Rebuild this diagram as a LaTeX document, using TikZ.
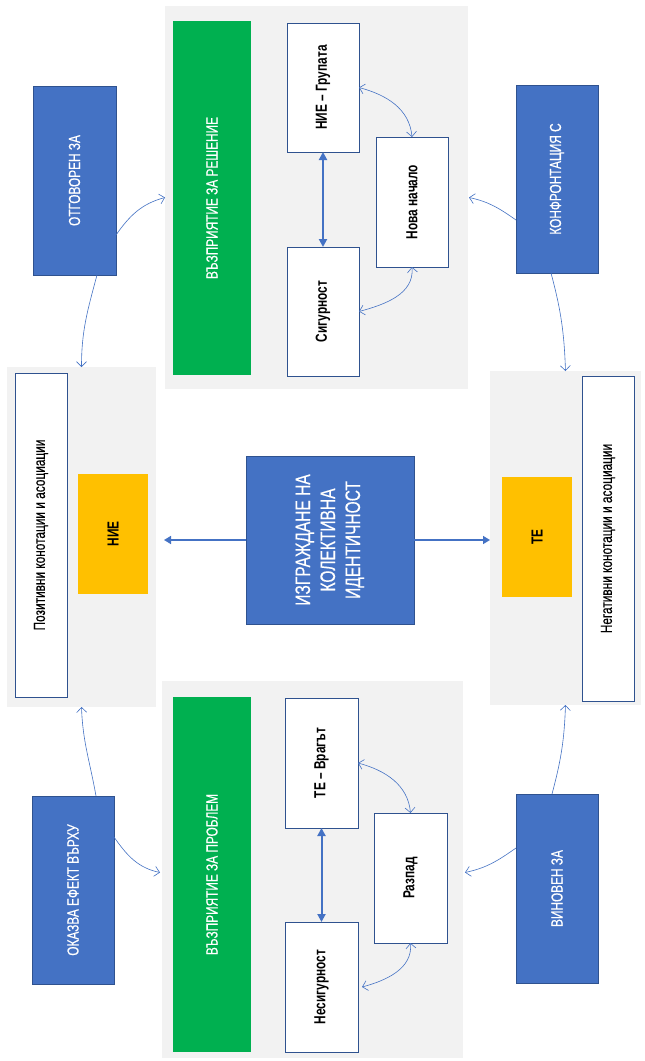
\documentclass[tikz,border=0pt]{standalone}
\usepackage{fontspec}
\setmainfont{Liberation Sans}[FakeStretch=0.74, UprightFeatures={FakeBold=0.4}]
\usetikzlibrary{arrows.meta}
\definecolor{blu}{HTML}{4472C4}
\definecolor{blued}{HTML}{2F528F}
\definecolor{grn}{HTML}{00B050}
\definecolor{yel}{HTML}{FFC000}
\definecolor{pan}{HTML}{F2F2F2}
\tikzset{
  sz/.style 2 args={minimum width=#1pt, minimum height=#2pt},
  base/.style={rectangle, inner sep=0pt, outer sep=0pt, font=\fontsize{16}{19}\selectfont},
  panel/.style={base, fill=pan, draw=none},
  greenbar/.style={base, fill=grn, text=white},
  wbox/.style={base, fill=white, draw=blued, line width=1pt, font=\fontsize{16}{19}\selectfont\bfseries},
  wlong/.style={base, fill=white, draw=blued, line width=1pt},
  ybox/.style={base, fill=yel, font=\fontsize{16}{19}\selectfont\bfseries},
  bbox/.style={base, fill=blu, draw=blued, line width=0.8pt, text=white},
  thin/.style={draw=blu, line width=0.6pt},
  openhead/.style={arrows={-Straight Barb[length=5pt,width=10pt,line width=0.6pt]}},
  bothopen/.style={arrows={Straight Barb[length=5pt,width=10pt,line width=0.6pt]-Straight Barb[length=5pt,width=10pt,line width=0.6pt]}},
  thick2/.style={draw=blu, line width=2pt, arrows={Triangle[length=8pt,width=8pt]-Triangle[length=8pt,width=8pt]}},
  centerarrow/.style={draw=blu, line width=1.5pt, arrows={-Triangle[length=7pt,width=8pt]}},
}
\newcommand{\rt}[1]{\rotatebox{90}{#1}}
\begin{document}
\begin{tikzpicture}[x=1pt,y=1pt]
\useasboundingbox (0,0) rectangle (645,-1061);
\fill[white] (0,0) rectangle (645,-1061);

% panels
\node[panel, sz={303}{383}] (ptop) at (316.5,-197.5) {};
\node[panel, sz={149}{340}] (pleft) at (81.5,-537) {};
\node[panel, sz={151}{334}] (pright) at (565.5,-538) {};
\node[panel, sz={301}{377}] (pbot) at (312.5,-869.5) {};

% green bars
\node[greenbar, sz={78}{354}] (gtop) at (212,-198) {\rt{ВЪЗПРИЯТИЕ ЗА РЕШЕНИЕ}};
\node[greenbar, sz={78}{355}] (gbot) at (212,-874.5) {\rt{ВЪЗПРИЯТИЕ ЗА ПРОБЛЕМ}};

% white boxes top
\node[wbox, sz={72}{129}] (w1) at (323,-87.5) {\rt{НИЕ – Групата}};
\node[wbox, sz={72}{129}] (w2) at (323,-311.5) {\rt{Сигурност}};
\node[wbox, sz={72}{130}] (w3) at (412,-202) {\rt{Нова начало}};
% white boxes bottom
\node[wbox, sz={73}{130}] (w4) at (321.5,-763) {\rt{ТЕ – Врагът}};
\node[wbox, sz={73}{130}] (w5) at (321.5,-987) {\rt{Несигурност}};
\node[wbox, sz={73}{130}] (w6) at (410.5,-878) {\rt{Разпад}};

% long white boxes
\node[wlong, sz={52}{324}] (wl) at (41,-535) {\rt{Позитивни конотации и асоциации}};
\node[wlong, sz={52}{325}] (wr) at (608,-538.5) {\rt{Негативни конотации и асоциации}};

% yellow
\node[ybox, sz={70}{120}] (yl) at (113,-534) {\rt{НИЕ}};
\node[ybox, sz={70}{120}] (yr) at (537,-537) {\rt{ТЕ}};

% blue boxes
\node[bbox, sz={83}{189}] (b1) at (74.5,-180.5) {\rt{ОТГОВОРЕН ЗА}};
\node[bbox, sz={82}{188}] (b2) at (557,-179) {\rt{КОНФРОНТАЦИЯ С}};
\node[bbox, sz={82}{188}] (b3) at (73,-890) {\rt{ОКАЗВА ЕФЕКТ ВЪРХУ}};
\node[bbox, sz={82}{189}] (b4) at (557,-888.5) {\rt{ВИНОВЕН ЗА}};
\node[bbox, sz={168}{168}] (bc) at (330,-540) {\rt{\fontsize{21}{25}\selectfont\begin{tabular}{@{}c@{}}ИЗГРАЖДАНЕ НА\\КОЛЕКТИВНА\\ИДЕНТИЧНОСТ\end{tabular}}};

% center arrows
\draw[centerarrow] (bc.west) -- ([xshift=8pt]bc.west -| pleft.east);
\draw[centerarrow] (bc.east) -- (bc.east -| pright.west);

% inner thick arrows
\draw[thick2] (w1.south) -- (w2.north);
\draw[thick2] (w4.south) -- (w5.north);

% inner curved arrows
\draw[thin, bothopen] (w1.east) to[out=-15,in=95] (w3.north);
\draw[thin, bothopen] (w3.south) to[out=-85,in=15] (w2.east);
\draw[thin, bothopen] (w4.east) to[out=-15,in=95] (w6.north);
\draw[thin, bothopen] (w6.south) to[out=-85,in=15] ([xshift=4pt]w5.east);

% outer curved arrows
\coordinate (b1r) at (b1.east |- 0,-235);
\coordinate (b1b) at (97,-275);
\coordinate (b2l) at (b2.west |- 0,-220);
\coordinate (b2b) at (551,-273);
\coordinate (b3t) at (96,-796);
\coordinate (b3r) at (b3.east |- 0,-837);
\coordinate (b4t) at (552,-794);
\coordinate (b4l) at (b4.west |- 0,-848);

\draw[thin, openhead] (b1r) to[out=55,in=195] (ptop.west);
\draw[thin, openhead] (b1b) to[out=-105,in=90] (pleft.north);
\draw[thin, openhead] (b2l) to[out=145,in=-12] ([xshift=1pt]ptop.east);
\draw[thin, openhead] (b2b) to[out=-75,in=92] (pright.north);
\draw[thin, openhead] (b3t) to[out=100,in=-88] (pleft.south);
\draw[thin, openhead] (b3r) to[out=-55,in=168] ([xshift=-2pt,yshift=-3pt]pbot.west);
\draw[thin, openhead] (b4t) to[out=75,in=-92] (pright.south);
\draw[thin, openhead] (b4l) to[out=-145,in=12] ([xshift=2pt,yshift=-3pt]pbot.east);
\end{tikzpicture}
\end{document}
